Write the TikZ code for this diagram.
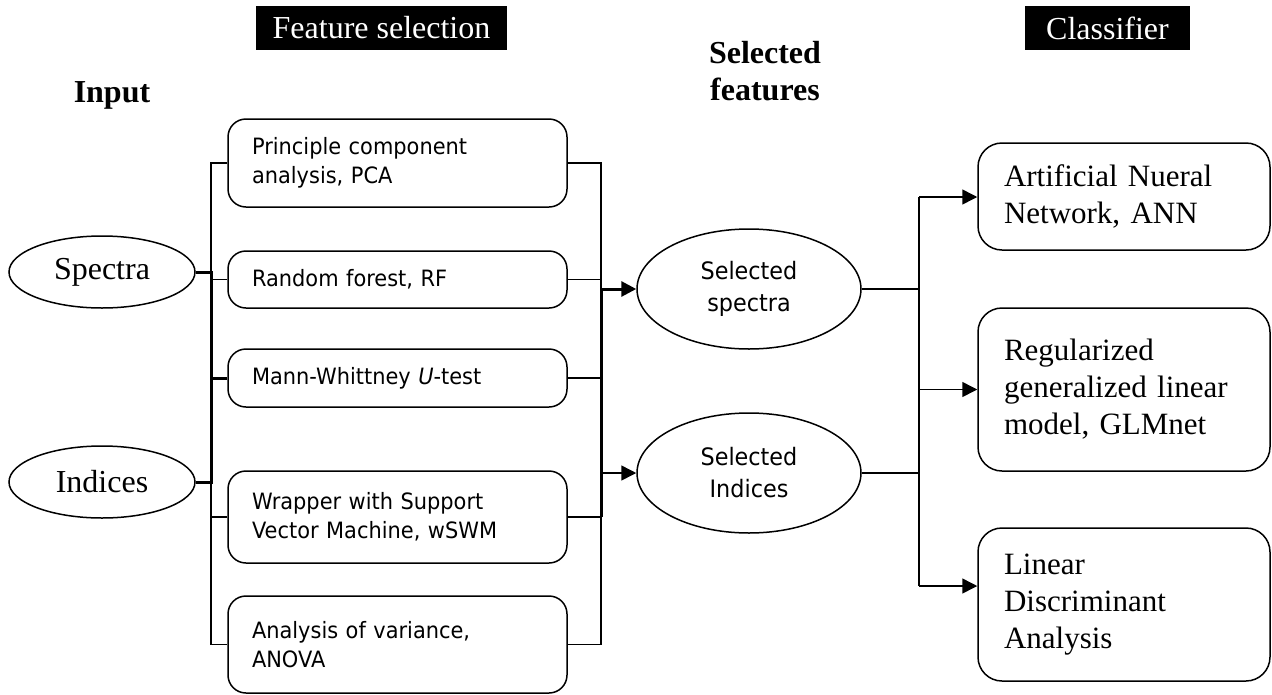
\documentclass[tikz,border=0pt]{standalone}
\usepackage{fontspec}
\setmainfont{Liberation Serif}
\newfontfamily\boxsans[FakeStretch=0.93]{DejaVu Sans}
\usetikzlibrary{arrows.meta,shapes.geometric,calc}
\tikzset{
  every picture/.style={line width=1.5pt},
  titlebox/.style={fill=black,text=white,inner sep=0pt,minimum height=44pt,font=\fontsize{32}{38}\selectfont},
  headtxt/.style={inner sep=0pt,font=\bfseries\fontsize{32}{37}\selectfont,align=center},
  inell/.style={draw,ellipse,inner sep=0pt,minimum width=186pt,minimum height=72pt,font=\fontsize{32}{38}\selectfont},
  selell/.style={draw,ellipse,inner sep=0pt,minimum width=224pt,minimum height=120pt,align=center,font=\boxsans\fontsize{24}{32}\selectfont},
  fsbox/.style={draw,rounded corners=18pt,inner xsep=24pt,inner ysep=0pt,text width=291pt,align=left,font=\boxsans\fontsize{22.5}{29}\selectfont},
  clbox/.style={draw,rounded corners=24pt,inner xsep=26pt,inner ysep=0pt,text width=240pt,align=left,font=\fontsize{31}{37}\selectfont},
  bold/.style={line width=3pt},
  arr/.style={-{Triangle[length=15pt,width=15pt]}},
}
\begin{document}
\begin{tikzpicture}[x=1pt,y=-1pt]
\useasboundingbox (0,0) rectangle (1272,694);
% titles
\node[titlebox,minimum width=251pt] (tfs) at (381.5,28) {Feature selection};
\node[titlebox,minimum width=165pt] (tcl) at (1107.5,28) {Classifier};
\node[headtxt,anchor=base] (tin) at (112,102) {Input};
\node[headtxt,anchor=north] (tsf) at (765,41) {Selected\\features};
% inputs
\node[inell] (spec) at (102,272) {Spectra};
\node[inell] (ind) at (102,482) {Indices};
% feature selection boxes
\node[fsbox,minimum height=88pt] (pca) at (397.5,163) {Principle component\\analysis, PCA};
\node[fsbox,minimum height=57pt] (rf) at (397.5,279.5) {Random forest, RF};
\node[fsbox,minimum height=58pt] (mw) at (397.5,378) {Mann-Whittney \textit{U}-test};
\node[fsbox,minimum height=92pt] (wr) at (397.5,517) {Wrapper with Support\\Vector Machine, wSWM};
\node[fsbox,minimum height=97pt] (an) at (397.5,644.5) {Analysis of variance,\\ANOVA};
% selected
\node[selell] (ss) at (749,289) {Selected\\spectra};
\node[selell] (si) at (749,473) {Selected\\Indices};
% classifiers
\node[clbox,minimum height=107pt] (ann) at (1124,196.5) {Artificial Nueral\\Network, ANN};
\node[clbox,minimum height=163pt] (glm) at (1124,389.5) {Regularized\\generalized linear\\model, GLMnet};
\node[clbox,minimum height=153pt] (lda) at (1124,604.5) {Linear\\Discriminant\\Analysis};
% bus coordinates
\coordinate (lb) at (211,0);
\coordinate (rb) at (601,0);
\coordinate (cb) at (919,0);
\coordinate (ssin) at (601,289);
\coordinate (siin) at (601,473);
\coordinate (c1) at (919,197);
\coordinate (c3) at (919,586);
% left bus
\draw (pca.west) -- (pca.west -| lb) -- (an.west -| lb) -- (an.west);
\draw (rf.west) -- (rf.west -| lb);
\draw (wr.west) -- (wr.west -| lb);
\draw[bold] (spec.east) -- (spec.east -| lb) -- (ind.east -| lb) -- (ind.east);
\draw[bold] (mw.west) -- (mw.west -| lb);
% right bus
\draw (pca.east) -- (pca.east -| rb) -- (an.east -| rb) -- (an.east);
\draw (rf.east) -- (rf.east -| rb);
\draw (mw.east) -- (mw.east -| rb);
\draw (wr.east) -- (wr.east -| rb);
\draw[bold] (ssin) -- (wr.east -| rb);
\draw[bold,arr] (ssin) -- (ss.west);
\draw[arr] (siin) -- (si.west);
% classifier bus
\draw (ss.east) -- (ss.east -| cb);
\draw (si.east) -- (si.east -| cb);
\draw (c1) -- (c3);
\draw[arr] (c1) -- (c1 -| ann.west);
\draw[arr] (glm.west -| cb) -- (glm.west);
\draw[arr] (c3) -- (c3 -| lda.west);
\end{tikzpicture}
\end{document}
